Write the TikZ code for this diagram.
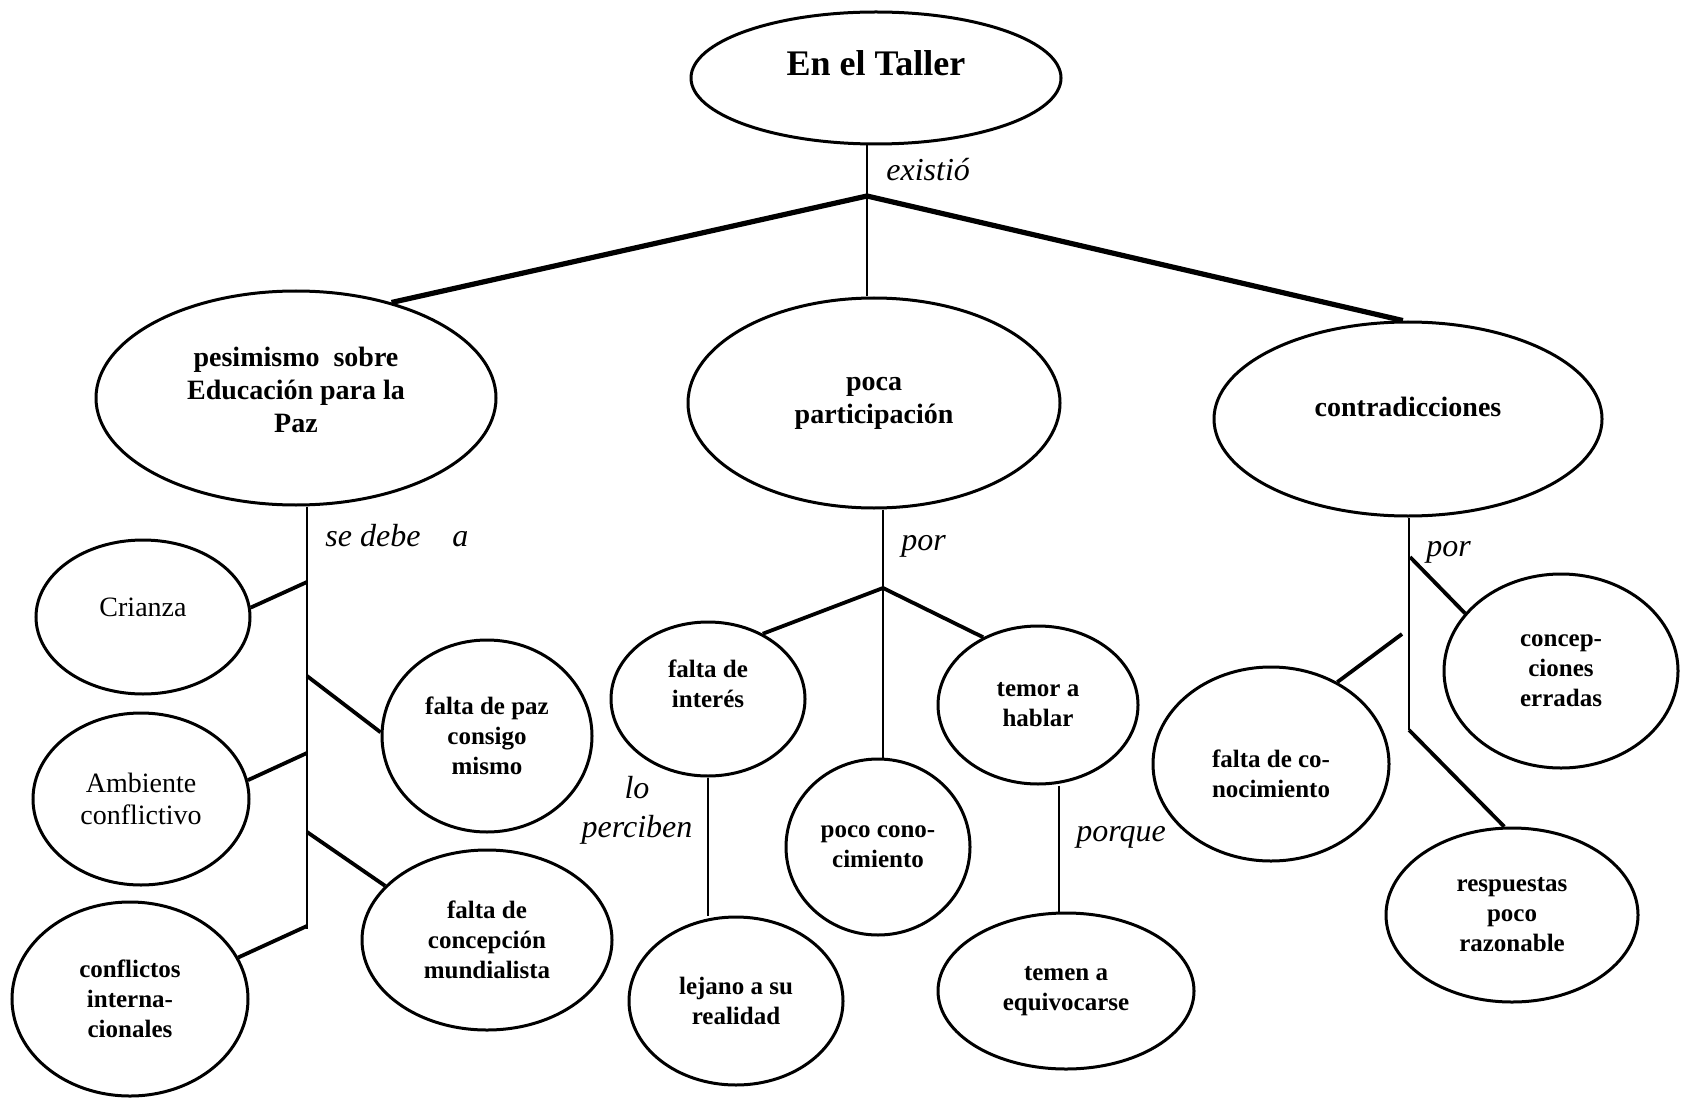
\documentclass[tikz,border=0pt]{standalone}
\usepackage{fontspec}
\setmainfont{Liberation Serif}
\usetikzlibrary{shapes.geometric}

\begin{document}
\begin{tikzpicture}[x=0.5pt,y=-0.5pt,
    concept/.style={ellipse,draw,line width=1.5pt,inner sep=0pt,align=center,
      font=\fontsize{14}{16.5}\selectfont\bfseries},
    leaf/.style={concept,font=\fontsize{12.5}{15}\selectfont\bfseries},
    leafr/.style={concept,font=\fontsize{14}{16}\selectfont},
    word/.style={inner sep=0pt,font=\fontsize{16}{19.5}\selectfont\itshape},
    stem/.style={line width=1.3pt},
    twig/.style={line width=1.9pt},
    branch/.style={line width=2.6pt}]

  \useasboundingbox (0,0) rectangle (1684,1101);

  \node[concept,minimum width=185pt,minimum height=66pt,
    font=\fontsize{18}{20}\selectfont\bfseries] (taller) at (876,78)
    {\raisebox{7.5pt}[\height][\depth]{En el Taller}};
  \node[concept,minimum width=200pt,minimum height=107pt] (pes) at (296,398)
    {\raisebox{2.5pt}[\height][\depth]{\begin{tabular}{@{}c@{}}pesimismo~~sobre\\Educación para la\\Paz\end{tabular}}};
  \node[concept,minimum width=186pt,minimum height=105pt] (poca) at (874,403)
    {poca\\participación};
  \node[concept,minimum width=194pt,minimum height=97pt] (contra) at (1408,419)
    {\raisebox{6pt}[\height][\depth]{contradicciones}};

  \node[leafr,minimum width=107pt,minimum height=77pt] (crianza) at (143,617)
    {\raisebox{5pt}[\height][\depth]{Crianza}};
  \node[leaf,minimum width=105pt,minimum height=96pt] (fpaz) at (487,736)
    {falta de paz\\consigo\\mismo};
  \node[leafr,minimum width=108pt,minimum height=86pt] (amb) at (141,799)
    {Ambiente\\conflictivo};
  \node[leaf,minimum width=125pt,minimum height=90pt] (fconc) at (487,940)
    {falta de\\concepción\\mundialista};
  \node[leaf,minimum width=118pt,minimum height=97pt] (confl) at (130,999)
    {conflictos\\interna-\\cionales};

  \node[leaf,minimum width=97pt,minimum height=77pt] (fint) at (708,699)
    {\raisebox{6.5pt}[\height][\depth]{\begin{tabular}{@{}c@{}}falta de\\interés\end{tabular}}};
  \node[leaf,minimum width=107pt,minimum height=84pt] (lejano) at (736,1001)
    {lejano a su\\realidad};
  \node[leaf,minimum width=92pt,minimum height=88pt] (pococ) at (878,847)
    {poco cono-\\cimiento};
  \node[leaf,minimum width=100pt,minimum height=79pt] (temor) at (1038,705)
    {temor a\\hablar};
  \node[leaf,minimum width=128pt,minimum height=78pt] (temen) at (1066,991)
    {temen a\\equivocarse};

  \node[leaf,minimum width=118pt,minimum height=97pt] (fcon) at (1271,764)
    {\raisebox{-6pt}[\height][\depth]{\begin{tabular}{@{}c@{}}falta de co-\\nocimiento\end{tabular}}};
  \node[leaf,minimum width=117pt,minimum height=97pt] (cerr) at (1561,671)
    {concep-\\ciones\\erradas};
  \node[leaf,minimum width=126pt,minimum height=87pt] (resp) at (1512,915)
    {respuestas\\poco\\razonable};

  % top level
  \coordinate (j0) at (867,196);
  \draw[stem] (j0 |- taller.south) -- (j0 |- poca.north);
  \draw[branch] (pes.45) -- (j0) -- (contra.93);
  \node[word,anchor=west] (existio) at (886,170) {existió};

  % left
  \coordinate (l0) at (307,929);
  \coordinate (l1) at (307,582);
  \coordinate (l2) at (307,676);
  \coordinate (l3) at (307,753);
  \coordinate (l4) at (307,832);
  \coordinate (l5) at (307,926);
  \draw[stem] (l0 |- pes.south) -- (l0);
  \draw[twig] (crianza.5) -- (l1);
  \draw[twig] (l2) -- (fpaz.178);
  \draw[twig] (amb.10) -- (l3);
  \draw[twig] (l4) -- (fconc.152);
  \draw[twig] (confl.21) -- (l5);
  \node[word,anchor=west] (sedebe) at (325,536) {se debe\quad a};

  % middle
  \coordinate (j1) at (883,588);
  \coordinate (p2) at (1059,850);
  \draw[stem] (j1 |- poca.south) -- (j1 |- pococ.north);
  \draw[twig] (fint.50) -- (j1) -- (temor.129);
  \draw[stem] (fint.south) -- (fint.south |- lejano.north);
  \draw[stem] (p2 |- temor.south) -- (p2 |- temen.north);
  \node[word,anchor=west] (por1) at (901,546) {por};
  \node[word,align=center] (perciben) at (637,810) {lo\\perciben};
  \node[word,anchor=west] (porque) at (1076,837) {porque};

  % right
  \coordinate (k0) at (1409,730);
  \coordinate (c6) at (1410,557);
  \coordinate (c7) at (1402,634);
  \draw[stem] (k0 |- contra.south) -- (k0);
  \draw[twig] (k0) -- (resp.95);
  \draw[twig] (c6) -- (cerr.149);
  \draw[twig] (c7) -- (fcon.51);
  \node[word,anchor=west] (por2) at (1426,552) {por};
\end{tikzpicture}
\end{document}
